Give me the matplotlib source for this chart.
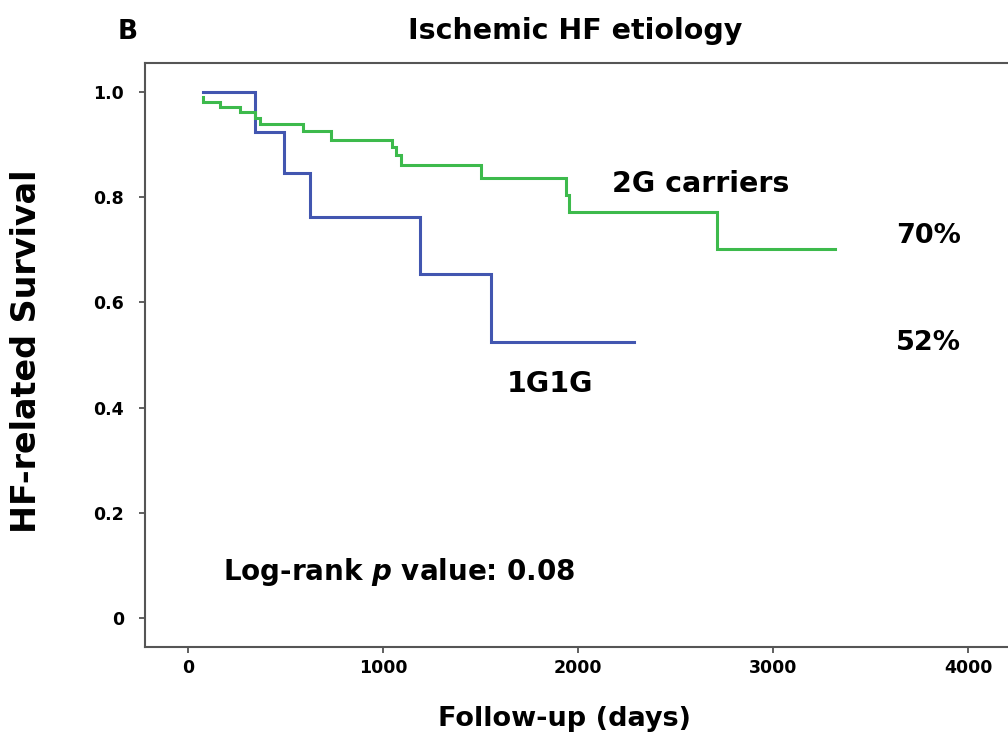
import matplotlib
matplotlib.use("Agg")
import matplotlib.pyplot as plt

# ---- data ----
days_1g1g = [75, 344, 492, 626, 1186, 1552, 2284]
surv_1g1g = [1.0, 0.924, 0.845, 0.762, 0.653, 0.524, 0.524]

days_2g = [75, 78, 164, 267, 344, 368, 586, 732, 1044, 1067, 1092, 1500, 1935, 1951, 2711, 3318]
surv_2g = [0.990, 0.981, 0.971, 0.961, 0.950, 0.939, 0.925, 0.909, 0.895, 0.880, 0.861, 0.837, 0.804, 0.771, 0.701, 0.701]

xticks = [0, 1000, 2000, 3000, 4000]
xtick_labels = ["0", "1000", "2000", "3000", "4000"]
yticks = [0, 0.2, 0.4, 0.6, 0.8, 1.0]
ytick_labels = ["0", "0.2", "0.4", "0.6", "0.8", "1.0"]

title = "Ischemic HF etiology"
panel = "B"
xlabel = "Follow-up (days)"
ylabel = "HF-related Survival"
label_2g = "2G carriers"
label_1g = "1G1G"
pct_2g = "70%"
pct_1g = "52%"

W, H = 1008, 740
fig = plt.figure(figsize=(W / 100, H / 100), dpi=100)
plt.rcParams['font.family'] = ['DejaVu Sans']

# axes geometry in pixels
left_px, right_px, top_px, bottom_px = 145, 1015, 62.5, 646.5
ax = fig.add_axes([left_px / W, 1 - bottom_px / H, (right_px - left_px) / W, (bottom_px - top_px) / H])

blue = "#4256b0"
green = "#3dba4c"
ax.step(days_1g1g, surv_1g1g, where="post", color=blue, lw=2.2, solid_joinstyle="miter")
ax.step(days_2g, surv_2g, where="post", color=green, lw=2.2, solid_joinstyle="miter")

ax.set_xlim(-222, 4240)
ax.set_ylim(-0.054, 1.0555)

ax.set_xticks(xticks)
ax.set_xticklabels(xtick_labels, fontsize=12.5, fontweight="bold")
ax.set_yticks(yticks)
ax.set_yticklabels(ytick_labels, fontsize=12.5, fontweight="bold")
ax.tick_params(axis="both", direction="out", length=4, width=1.2, color="#444444")
ax.tick_params(axis="y", pad=11)
ax.tick_params(axis="x", pad=5)

for s in ["left", "bottom", "top", "right"]:
    ax.spines[s].set_color("#555555")
    ax.spines[s].set_linewidth(1.5)

# annotations
ax.text(2629, 0.809, label_2g, ha="center", va="baseline", fontsize=20.5, fontweight="bold")
ax.text(1855, 0.43, label_1g, ha="center", va="baseline", fontsize=20.5, fontweight="bold")
ax.text(3629, 0.712, pct_2g, ha="left", va="baseline", fontsize=19.5, fontweight="bold")
ax.text(3629, 0.509, pct_1g, ha="left", va="baseline", fontsize=19.5, fontweight="bold")
ax.text(179, 0.072, r"Log-rank $\boldsymbol{p}$ value: 0.08", ha="left", va="baseline",
        fontsize=20, fontweight="bold")

fig.text(575.5 / W, 1 - 39 / H, title, ha="center", va="baseline", fontsize=20.5, fontweight="bold")
fig.text(127.5 / W, 1 - 39 / H, panel, ha="center", va="baseline", fontsize=19, fontweight="bold")
fig.text(565 / W, 1 - 726 / H, xlabel, ha="center", va="baseline", fontsize=19.5, fontweight="bold")
fig.text(27 / W, 1 - 351 / H, ylabel, ha="center", va="center", rotation=90, fontsize=24, fontweight="bold")

fig.savefig("out.png", dpi=100)
